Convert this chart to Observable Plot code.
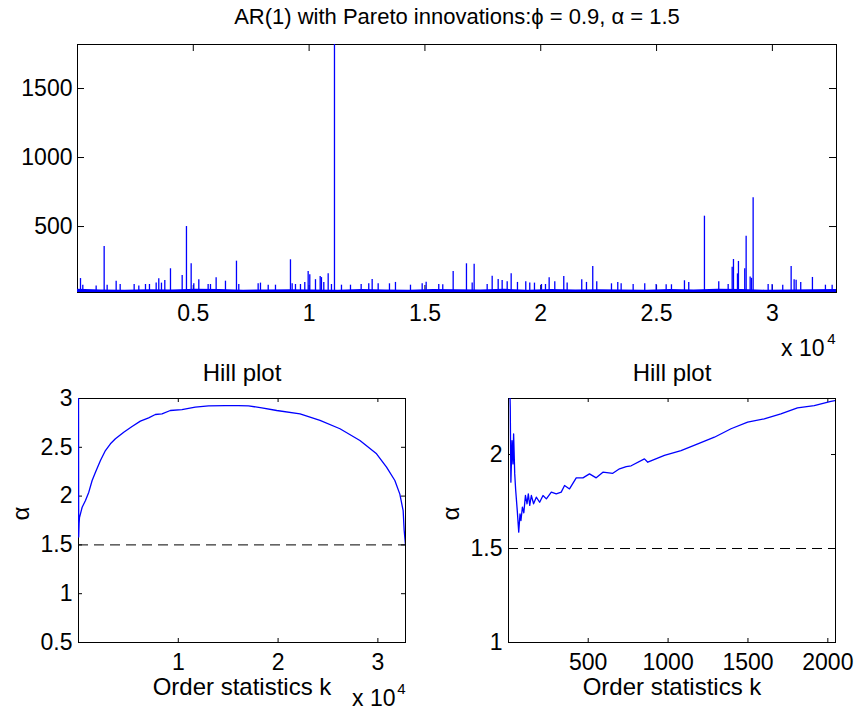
<!DOCTYPE html>
<html><head><meta charset="utf-8">
<script src="https://cdn.jsdelivr.net/npm/d3@7"></script>
<script src="https://cdn.jsdelivr.net/npm/@observablehq/plot@0.6"></script>
<style>
html,body{margin:0;padding:0;background:#fff;}
#wrap{position:relative;width:858px;height:712px;overflow:hidden;background:#fff;}
#wrap svg{position:absolute;}
</style></head><body><div id="wrap"></div>
<script>
// ---------- DATA ----------
const mainTitle = "AR(1) with Pareto innovations:ϕ = 0.9, α = 1.5";
const hillTitle = "Hill plot";
const xLabel = "Order statistics k";
const yLabel = "α";
const alphaTrue = 1.5;

// Top panel: AR(1) series (n = 32768)
const seriesN = 32768;
const seriesMin = 22;
const seriesMax = 1819;
// dense low-level floor: top of the band, sampled along k
const floorK = [1,1024,2048,3072,4096,5120,6144,7168,8192,9216,10240,11264,12288,13312,14336,15360,16384,17408,18432,19456,20480,21504,22528,23552,24576,25600,26624,27648,28672,29696,30720,31744,32768];
const floorTop = [46,40,38,42,40,45,44,39,41,42,40,38,43,41,39,44,42,41,45,39,43,41,42,40,38,44,41,45,43,39,41,42,44];
// visible spikes
const spikeK = [130,230,806,1152,1281,1670,1843,2447,2648,2936,3108,3397,3510,3626,3770,4015,4520,4705,4908,5022,5238,5641,5742,5986,6389,6864,6964,7800,7900,8234,
  8548,9195,9268,9411,9627,9813,9959,10029,10275,10478,10533,10634,10823,10965,11095,11397,11786,12247,12575,12722,12981,13469,13728,14376,14881,15053,15597,15770,16219,
  16793,17040,17125,17687,17903,18162,18334,18551,18723,18995,19353,19526,19729,20031,20204,20363,20606,20994,21140,21770,21974,22245,22418,23053,23325,23471,23989,24490,
  24982,25414,25643,26204,26390,27067,27685,28091,28264,28320,28493,28535,28807,28867,29040,29097,29169,29817,29990,30447,30810,30939,31025,31224,31729,32290,32580];
const spikeVal = [123,75,70,355,75,104,80,80,70,80,80,90,121,90,109,194,145,500,230,85,114,80,80,128,104,249,80,85,90,75,
  75,259,85,80,80,95,174,150,115,138,130,95,157,80,1819,75,75,80,85,116,85,85,95,75,85,97,80,78,174,
  230,90,227,80,140,116,109,100,157,95,100,90,90,80,80,128,100,138,90,114,95,210,100,85,95,85,80,85,
  80,78,78,107,95,575,100,80,205,261,157,247,194,430,135,125,708,80,80,75,210,114,110,95,131,75,75];
const topXTicks = [5000,10000,15000,20000,25000,30000];
const topYTicks = [500,1000,1500];

// Bottom-left: Hill plot over all k
const hillK = [1,20,60,100,367,700,1033,1367,1700,2200,2700,3200,3700,4533,5367,6200,7033,7700,8367,9200,10367,11700,13033,14700,16000,17033,18367,19867,22200,24200,26200,28200,29867,30867,31700,32200,32533,32633,32767];
const hillA = [3.4,1.58,1.72,1.78,1.886,1.955,2.04,2.16,2.245,2.365,2.467,2.536,2.587,2.655,2.713,2.768,2.802,2.836,2.843,2.877,2.887,2.911,2.925,2.927,2.926,2.925,2.904,2.877,2.843,2.775,2.69,2.57,2.433,2.296,2.16,2.02,1.85,1.65,1.5];
const hillXTicks = [10000,20000,30000];
const hillYTicks = [0.5,1,1.5,2,2.5,3];

// Bottom-right: Hill plot, first 2048 order statistics
const hill2K = [1,8,12,16,23,29,33,40,46,56,65,73,79,88,97,107,117,125,134,144,158,175,196,217,238,269,300,331,352,383,425,467,508,550,592,654,696,738,769,852,873,977,1081,1186,1290,1394,1498,1602,1706,1810,1915,2019,2048];
const hill2A = [2.9,2.4,2.25,1.853,2.074,1.95,2.11,1.897,1.81,1.70,1.587,1.684,1.649,1.72,1.69,1.782,1.738,1.791,1.729,1.782,1.738,1.773,1.746,1.782,1.764,1.80,1.791,1.80,1.835,1.817,1.876,1.876,1.897,1.876,1.906,1.90,1.924,1.936,1.94,1.977,1.959,1.995,2.021,2.057,2.092,2.137,2.172,2.19,2.216,2.248,2.26,2.283,2.287];
const hill2XTicks = [500,1000,1500,2000];
const hill2YTicks = [1,1.5,2];

// ---------- DRAWING ----------
const FONT = '"Liberation Sans", Arial, Helvetica, sans-serif';
const BLUE = "#0000ff";
const baseStyle = {fontFamily: FONT, fontSize: "23px", background: "transparent", overflow: "visible", color: "black"};
const fmt = d => String(d);

function boxTicks(xT, yT, pw, ph, len) {
  return [
    Plot.frame({stroke: "black", strokeWidth: 1}),
    Plot.ruleX(xT, {x: d => d, insetTop: ph - len, stroke: "black", strokeWidth: 1}),
    Plot.ruleX(xT, {x: d => d, insetBottom: ph - len, stroke: "black", strokeWidth: 1}),
    Plot.ruleY(yT, {y: d => d, insetRight: pw - len, stroke: "black", strokeWidth: 1}),
    Plot.ruleY(yT, {y: d => d, insetLeft: pw - len, stroke: "black", strokeWidth: 1})
  ];
}
function txt(s, opts) { return Plot.text([s], {text: d => d, fill: "black", ...opts}); }

const wrap = document.getElementById("wrap");

// Top panel
{
  const W = 858, H = 370, mL = 77, mR = 22, mT = 44, mB = 78;
  const pw = W - mL - mR, ph = H - mT - mB;
  const spikes = spikeK.map((k, i) => ({k, v: spikeVal[i]}));
  const floor = floorK.map((k, i) => ({k, v: floorTop[i]}));
  const svg = Plot.plot({
    width: W, height: H, marginLeft: mL, marginRight: mR, marginTop: mT, marginBottom: mB,
    style: baseStyle,
    x: {domain: [1, seriesN]},
    y: {domain: [seriesMin, seriesMax]},
    marks: [
      ...boxTicks(topXTicks, topYTicks, pw, ph, 7),
      Plot.areaY(floor, {x: "k", y1: seriesMin, y2: "v", fill: BLUE, curve: "linear", clip: true}),
      Plot.ruleX(spikes, {x: "k", y1: seriesMin, y2: "v", stroke: BLUE, strokeWidth: 1.3, clip: true}),
      Plot.axisX(topXTicks, {tickSize: 0, tickPadding: 12, tickFormat: d => String(d / 1e4), label: null}),
      Plot.axisY(topYTicks, {tickSize: 0, tickPadding: 5, tickFormat: fmt, label: null}),
      txt(mainTitle, {frameAnchor: "top", lineAnchor: "bottom", dy: -21, fontSize: 22}),
      txt("x 10", {frameAnchor: "bottom-right", lineAnchor: "bottom", textAnchor: "end", dy: 63, dx: -12}),
      txt("4", {frameAnchor: "bottom-right", lineAnchor: "bottom", textAnchor: "end", dy: 51, dx: -1, fontSize: 15})
    ]
  });
  svg.style.left = "0px"; svg.style.top = "0px";
  wrap.appendChild(svg);
}

function hillPanel(K, A, xDom, yDom, xT, yT, left, W, mR, showExp, xFmt) {
  const H = 372, mL = 78, mT = 58, mB = 70;
  const pw = W - mL - mR, ph = H - mT - mB;
  const data = K.map((k, i) => ({k, a: A[i]}));
  const marks = [
    ...boxTicks(xT, yT, pw, ph, 4),
    Plot.ruleY([alphaTrue], {y: d => d, stroke: "black", strokeWidth: 1, strokeDasharray: "10,6"}),
    Plot.line(data, {x: "k", y: "a", stroke: BLUE, strokeWidth: 1.3, clip: true}),
    Plot.axisX(xT, {tickSize: 0, tickPadding: 11, tickFormat: xFmt, label: null}),
    Plot.axisY(yT, {tickSize: 0, tickPadding: 6, tickFormat: fmt, label: null}),
    txt(hillTitle, {frameAnchor: "top", lineAnchor: "bottom", dy: -18, fontSize: 24}),
    txt(xLabel, {frameAnchor: "bottom", lineAnchor: "bottom", dy: 52, fontSize: 24}),
    txt(yLabel, {frameAnchor: "left", rotate: -90, dx: -57, fontSize: 24})
  ];
  if (showExp) {
    marks.push(txt("x 10", {frameAnchor: "bottom-right", lineAnchor: "bottom", textAnchor: "end", dy: 63, dx: -10}));
    marks.push(txt("4", {frameAnchor: "bottom-right", lineAnchor: "bottom", textAnchor: "end", dy: 51, dx: 0, fontSize: 15}));
  }
  const svg = Plot.plot({
    width: W, height: H, marginLeft: mL, marginRight: mR, marginTop: mT, marginBottom: mB,
    style: baseStyle,
    x: {domain: xDom},
    y: {domain: yDom},
    marks
  });
  svg.style.left = left + "px"; svg.style.top = "340px";
  wrap.appendChild(svg);
}

hillPanel(hillK, hillA, [1, 32767], [0.5, 3], hillXTicks, hillYTicks, 0, 430, 25, true, d => String(d / 1e4));
hillPanel(hill2K, hill2A, [1, 2048], [1, 2.298], hill2XTicks, hill2YTicks, 430, 428, 23, false, fmt);
</script></body></html>
